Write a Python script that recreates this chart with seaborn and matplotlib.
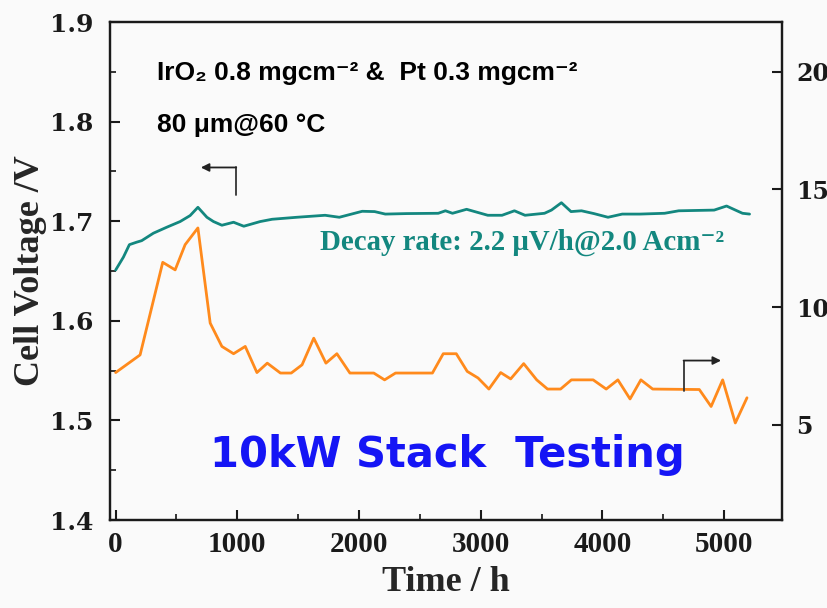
import matplotlib
matplotlib.use("Agg")
import matplotlib.pyplot as plt
import numpy as np
import pandas as pd
import seaborn as sns
from matplotlib.ticker import MultipleLocator, FixedLocator

# ---- data ----
teal_time = [0, 64, 113, 173, 214, 310, 420, 530, 612, 676, 750, 804, 873, 969,
             1053, 1188, 1286, 1489, 1721, 1838, 2026, 2128, 2216, 2390, 2651,
             2710, 2768, 2884, 3058, 3175, 3277, 3364, 3524, 3581, 3663, 3742,
             3828, 3930, 4046, 4163, 4308, 4511, 4627, 4918, 5020, 5093, 5151, 5209]
teal_voltage = [1.651, 1.664, 1.6765, 1.679, 1.6805, 1.688, 1.694, 1.6997, 1.7057,
                1.714, 1.704, 1.6997, 1.696, 1.699, 1.695, 1.6997, 1.702, 1.704,
                1.706, 1.704, 1.710, 1.7097, 1.7072, 1.7077, 1.708, 1.7105, 1.708,
                1.712, 1.706, 1.706, 1.7105, 1.706, 1.708, 1.7112, 1.7186, 1.7097,
                1.7105, 1.7077, 1.704, 1.7072, 1.7072, 1.708, 1.7105, 1.7112,
                1.7153, 1.7112, 1.708, 1.7072]

orange_time = [0, 201, 387, 489, 571, 676, 777, 873, 969, 1065, 1161, 1246, 1354,
               1443, 1532, 1628, 1728, 1818, 1925, 2121, 2210, 2300, 2603, 2692,
               2799, 2889, 2978, 3067, 3164, 3246, 3353, 3460, 3549, 3656, 3745,
               3924, 4031, 4127, 4227, 4316, 4413, 4796, 4893, 4988, 5092, 5188]
orange_value = [7.22, 7.97, 11.9, 11.58, 12.65, 13.36, 9.32, 8.33, 8.02, 8.33,
                7.22, 7.62, 7.20, 7.20, 7.55, 8.68, 7.62, 8.02, 7.20, 7.20, 6.91,
                7.20, 7.20, 8.02, 8.02, 7.27, 6.99, 6.52, 7.22, 6.95, 7.60, 6.91,
                6.52, 6.52, 6.91, 6.91, 6.52, 6.91, 6.10, 6.91, 6.52, 6.50, 5.78,
                6.91, 5.08, 6.15]

x_ticks = [0, 1000, 2000, 3000, 4000, 5000]
left_ticks = [1.4, 1.5, 1.6, 1.7, 1.8, 1.9]
right_ticks = [5, 10, 15, 20]

TEAL = "#13877f"
ORANGE = "#ff8a1c"
BG = "#fafafa"
SPINE = "#1a1a1a"

sns.set_theme(style="ticks")
plt.rcParams['font.family'] = ['Liberation Serif', 'DejaVu Serif']
plt.rcParams['axes.unicode_minus'] = True

fig = plt.figure(figsize=(8.28, 6.08), dpi=100)
fig.patch.set_facecolor(BG)
ax = fig.add_axes([0.1329, 0.1447, 0.8116, 0.819])
ax.set_facecolor(BG)
ax2 = ax.twinx()

df_v = pd.DataFrame({"Time": teal_time, "Voltage": teal_voltage})
df_p = pd.DataFrame({"Time": orange_time, "Value": orange_value})

sns.lineplot(data=df_v, x="Time", y="Voltage", ax=ax, color=TEAL, lw=2.0,
             estimator=None, sort=False)
sns.lineplot(data=df_p, x="Time", y="Value", ax=ax2, color=ORANGE, lw=2.0,
             estimator=None, sort=False)

ax.set_xlim(-46, 5476)
ax.set_ylim(1.4, 1.9)
ax2.set_ylim(0.96, 22.1)

ax.xaxis.set_major_locator(FixedLocator(x_ticks))
ax.xaxis.set_minor_locator(MultipleLocator(500))
ax.yaxis.set_major_locator(FixedLocator(left_ticks))
ax.yaxis.set_minor_locator(MultipleLocator(0.05))
ax2.yaxis.set_major_locator(FixedLocator(right_ticks))
ax2.yaxis.set_minor_locator(FixedLocator([]))

ax.set_xticklabels([str(t) for t in x_ticks], fontsize=21, fontweight='bold',
                   family=['Liberation Serif', 'DejaVu Serif'])
ax.set_yticklabels([f"{t:.1f}" for t in left_ticks], fontsize=18, fontweight='bold',
                   family=['DejaVu Serif'])
ax2.set_yticklabels([str(t) for t in right_ticks], fontsize=17, fontweight='bold',
                    family=['DejaVu Serif'])

for a in (ax, ax2):
    for s in a.spines.values():
        s.set_linewidth(1.6)
        s.set_color(SPINE)
        s.set_visible(True)

ax.tick_params(axis='x', which='major', direction='in', length=7, width=1.5,
               pad=8, colors=SPINE, top=False)
ax.tick_params(axis='x', which='minor', direction='in', length=4, width=1.3, top=False)
ax.tick_params(axis='y', which='major', direction='in', length=7, width=1.5,
               pad=12, colors=SPINE, right=False)
ax.tick_params(axis='y', which='minor', direction='in', length=4, width=1.3, right=False)
ax2.tick_params(axis='y', which='major', direction='in', length=7, width=1.5,
                pad=10, colors=SPINE, left=False)

ax.set_xlabel("Time / h", fontsize=26, fontweight='bold', labelpad=6)
ax.set_ylabel("Cell Voltage /V", fontsize=26, fontweight='bold', labelpad=2)
ax2.set_ylabel("")

# annotations
ax.text(341, 1.849, "IrO₂ 0.8 mgcm⁻² &  Pt 0.3 mgcm⁻²", fontsize=19,
        fontweight='bold', family=['Liberation Sans', 'DejaVu Sans'],
        va='center', ha='left', color='black')
ax.text(341, 1.797, "80 μm@60 °C", fontsize=19, fontweight='bold',
        family=['Liberation Sans', 'DejaVu Sans'], va='center', ha='left', color='black')
ax.text(1682, 1.679, "Decay rate: 2.2 μV/h@2.0 Acm⁻²", fontsize=20.8,
        fontweight='bold', family=['Liberation Serif', 'DejaVu Serif'],
        va='center', ha='left', color=TEAL)
ax.text(777, 1.465, "10kW Stack  Testing", fontsize=30, fontweight='bold',
        family=['DejaVu Sans'], va='center', ha='left', color='#1515f5')

# direction arrows
ax.plot([991, 991], [1.726, 1.754], color='#333333', lw=1.3)
ax.annotate("", xy=(700, 1.754), xytext=(991, 1.754),
            arrowprops=dict(arrowstyle='-|>', color='#222222', lw=1.3,
                            mutation_scale=12, shrinkA=0, shrinkB=0))
ax2.plot([4667, 4667], [6.45, 7.73], color='#333333', lw=1.3)
ax2.annotate("", xy=(4975, 7.73), xytext=(4667, 7.73),
             arrowprops=dict(arrowstyle='-|>', color='#222222', lw=1.3,
                             mutation_scale=12, shrinkA=0, shrinkB=0))

fig.savefig("out.png", dpi=100, facecolor=BG)
